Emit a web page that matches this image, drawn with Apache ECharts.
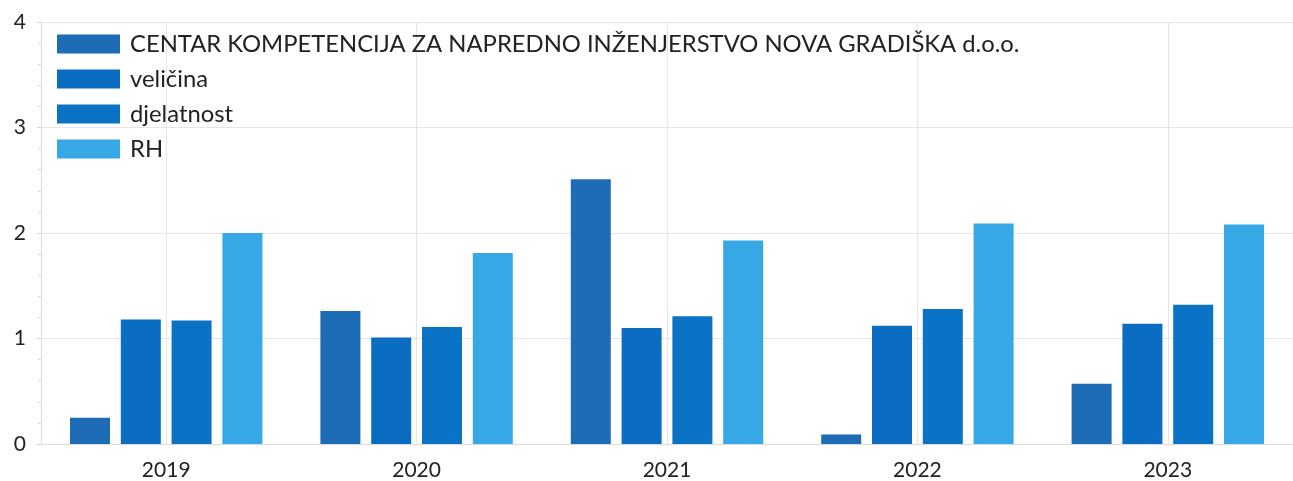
<!DOCTYPE html>
<html>
<head>
<meta charset="utf-8">
<script src="https://cdn.jsdelivr.net/npm/echarts@6/dist/echarts.min.js"></script>
<style>
  html, body { margin: 0; padding: 0; background: #fff; }
  #chart { width: 1293px; height: 481px; }
</style>
</head>
<body>
<div id="chart"></div>
<script>
const years = ['2019', '2020', '2021', '2022', '2023'];
const seriesNames = [
  'CENTAR KOMPETENCIJA ZA NAPREDNO INŽENJERSTVO NOVA GRADIŠKA d.o.o.',
  'veličina',
  'djelatnost',
  'RH'
];
const company = [0.25, 1.26, 2.51, 0.09, 0.57];
const sizeGroup = [1.18, 1.01, 1.10, 1.12, 1.14];
const activity = [1.17, 1.11, 1.21, 1.28, 1.32];
const croatia = [2.00, 1.81, 1.93, 2.09, 2.08];
const yTicks = [0, 1, 2, 3, 4];

const COLORS = ['#1f6cb6', '#0a6dc2', '#0a73c6', '#36a8e6'];
const FONT = 'Lato';
const GRID_LINE = '#e4e4ec';

const values = [company, sizeGroup, activity, croatia];

const chart = echarts.init(document.getElementById('chart'));

chart.setOption({
  animation: false,
  textStyle: { fontFamily: FONT },
  legend: {
    orient: 'vertical',
    left: 57,
    top: 32,
    padding: 0,
    itemWidth: 63,
    itemHeight: 19,
    itemGap: 11,
    icon: 'rect',
    data: seriesNames,
    textStyle: {
      fontFamily: FONT,
      fontSize: 23.8,
      lineHeight: 24,
      color: '#222',
      padding: [0, 0, 0, 5]
    }
  },
  grid: {
    left: 41,
    right: -7,
    top: 22,
    bottom: 37
  },
  xAxis: {
    type: 'category',
    data: years,
    axisLine: { show: true, lineStyle: { color: '#dcdcdc' } },
    axisTick: { show: false },
    splitLine: { show: true, alignWithLabel: true, lineStyle: { color: GRID_LINE } },
    axisLabel: { fontFamily: FONT, fontSize: 21, color: '#222', margin: 16 }
  },
  yAxis: {
    type: 'value',
    min: yTicks[0],
    max: yTicks[yTicks.length - 1],
    interval: 1,
    axisLine: { show: true, lineStyle: { color: '#dcdcdc' } },
    axisTick: { show: true, length: 4, lineStyle: { color: '#d6d6d6' } },
    minorTick: { show: true, splitNumber: 5, length: 3, lineStyle: { color: '#dadada' } },
    splitLine: { lineStyle: { color: GRID_LINE } },
    axisLabel: { fontFamily: FONT, fontSize: 21, color: '#222', margin: 15 }
  },
  series: seriesNames.map((name, i) => ({
    name,
    type: 'bar',
    data: values[i],
    barWidth: 40,
    barGap: '27%',
    itemStyle: { color: COLORS[i] }
  }))
});
</script>
</body>
</html>
